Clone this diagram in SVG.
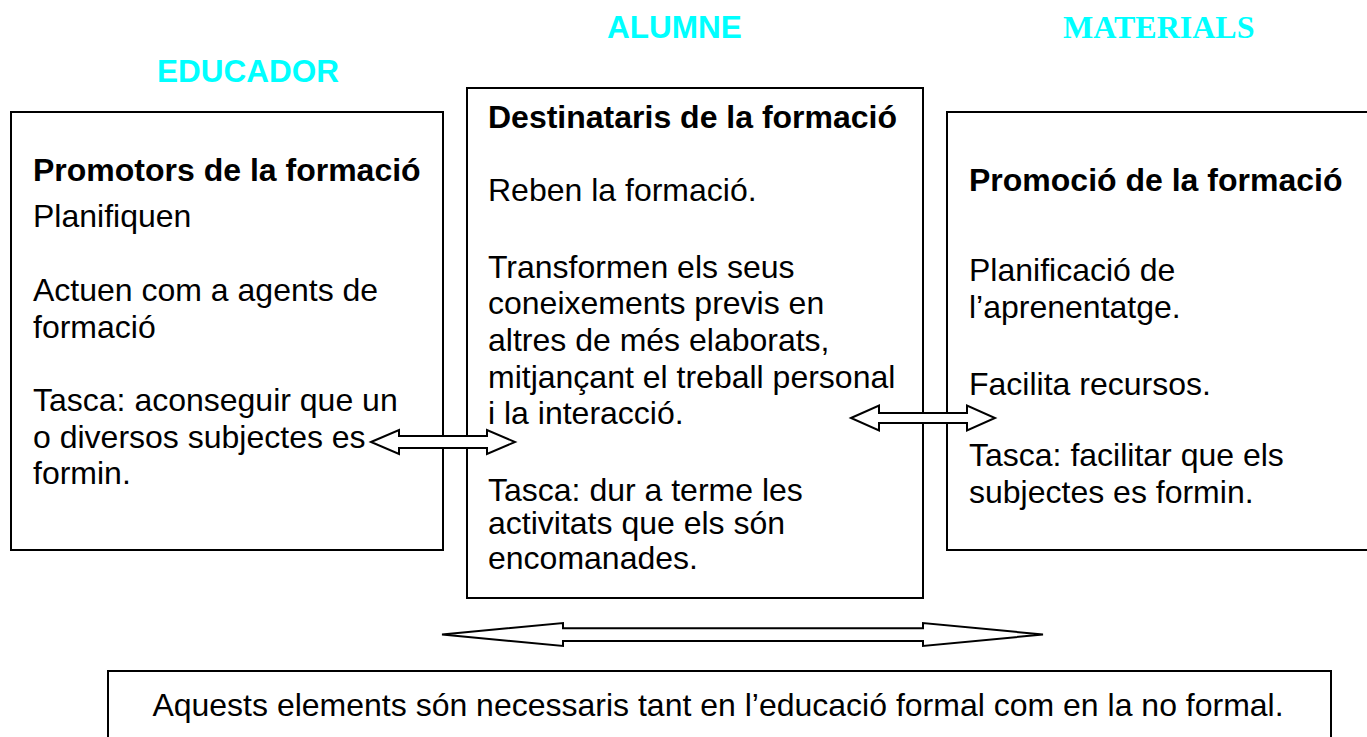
<svg xmlns="http://www.w3.org/2000/svg" width="1367" height="737" viewBox="0 0 1367 737">
<style>
.box{fill:#fff;stroke:#000;stroke-width:2}
.t{font-family:"Liberation Sans",Arial,sans-serif;font-size:32px;fill:#000}
.b{font-weight:bold}
.h{font-family:"Liberation Sans",Arial,sans-serif;font-size:31.5px;font-weight:bold;fill:#00ffff}
.hs{font-family:"Liberation Serif","Times New Roman",serif;font-size:32px;font-weight:bold;fill:#00ffff}
.arr{fill:#fff;stroke:#000;stroke-width:2;stroke-linejoin:miter}
</style>
<rect width="1367" height="737" fill="#fff"/>
<g id="headers">
<text class="h" x="157" y="82">EDUCADOR</text>
<text class="h" x="607" y="38">ALUMNE</text>
<text class="hs" x="1063" y="38">MATERIALS</text>
</g>
<g id="educador">
<rect class="box" x="11" y="112" width="432" height="438"/>
<text class="t b" x="33" y="181">Promotors de la formació</text>
<text class="t" x="33" y="227">Planifiquen</text>
<text class="t" x="33" y="301">Actuen com a agents de</text>
<text class="t" x="33" y="338">formació</text>
<text class="t" x="33" y="411">Tasca: aconseguir que un</text>
<text class="t" x="33" y="448">o diversos subjectes es</text>
<text class="t" x="33" y="484">formin.</text>
</g>
<g id="alumne">
<rect class="box" x="467" y="88" width="456" height="510"/>
<text class="t b" x="488" y="128">Destinataris de la formació</text>
<text class="t" x="488" y="201">Reben la formació.</text>
<text class="t" x="488" y="278">Transformen els seus</text>
<text class="t" x="488" y="314">coneixements previs en</text>
<text class="t" x="488" y="351">altres de més elaborats,</text>
<text class="t" x="488" y="388">mitjançant el treball personal</text>
<text class="t" x="488" y="424">i la interacció.</text>
<text class="t" x="488" y="501">Tasca: dur a terme les</text>
<text class="t" x="488" y="534">activitats que els són</text>
<text class="t" x="488" y="569">encomanades.</text>
</g>
<g id="materials">
<rect class="box" x="947" y="112" width="430" height="438"/>
<text class="t b" x="969" y="191">Promoció de la formació</text>
<text class="t" x="969" y="281">Planificació de</text>
<text class="t" x="969" y="318">l’aprenentatge.</text>
<text class="t" x="969" y="395">Facilita recursos.</text>
<text class="t" x="969" y="466">Tasca: facilitar que els</text>
<text class="t" x="969" y="503">subjectes es formin.</text>
</g>
<g id="conclusio">
<rect class="box" x="108" y="671" width="1223" height="80"/>
<text class="t" x="718" y="716" text-anchor="middle">Aquests elements són necessaris tant en l’educació formal com en la no formal.</text>
</g>
<g id="connectors">
<polygon class="arr" points="371,442 399,430 399,436 487,436 487,430 515,442 487,454 487,448 399,448 399,454"/>
<polygon class="arr" points="851,418 879,405.5 879,413 967,413 967,405.5 995,418 967,430.5 967,423 879,423 879,430.5"/>
<polygon class="arr" points="442,634.5 563,623 563,628.3 923,628.3 923,623 1043,634.5 923,646 923,641 563,641 563,646"/>
</g>
</svg>
